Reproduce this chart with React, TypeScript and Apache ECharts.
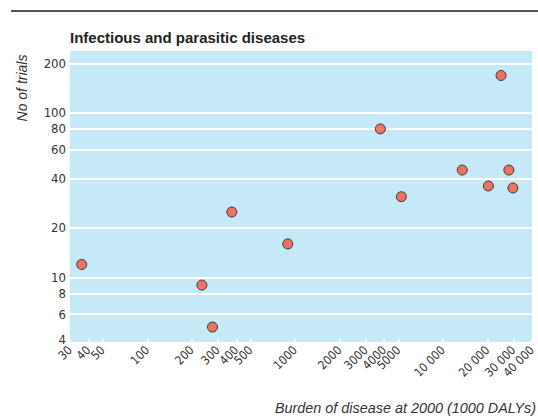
import React, { useEffect, useRef } from "react";
import * as echarts from "echarts";

const titleText = "Infectious and parasitic diseases";
const xAxisTitle = "Burden of disease at 2000 (1000 DALYs)";
const yAxisTitle = "No of trials";

const xTicks = [30, 40, 50, 100, 200, 300, 400, 500, 1000, 2000, 3000, 4000, 5000, 10000, 20000, 30000, 40000];
const yTicks = [4, 6, 8, 10, 20, 40, 60, 80, 100, 200];

const burden = [36, 234, 276, 373, 891, 3770, 5230, 13500, 20300, 24700, 27900, 29700];
const trials = [12, 9, 5, 25, 16, 80, 31, 45, 36, 169, 45, 35];

const xMin = 30;
const xMax = 40000;
const yMin = 4;
const yMax = 238;

const NARROW = '"Liberation Sans Narrow", "Arial Narrow", "DejaVu Sans Condensed", sans-serif';
const REG = '"Liberation Sans", Arial, sans-serif';

const fmt = (v: number) => {
  const n = Math.round(Math.pow(10, v));
  if (n >= 10000) {
    const s = String(n);
    return s.slice(0, s.length - 3) + " " + s.slice(s.length - 3);
  }
  return String(n);
};

export default function App() {
  const ref = useRef<HTMLDivElement>(null);
  useEffect(() => {
    if (!ref.current) return;
    const chart = echarts.init(ref.current, null, { renderer: "svg" });
    const data = burden.map((b, i) => [Math.log10(b), Math.log10(trials[i])]);
    chart.setOption({
      animation: false,
      backgroundColor: "#ffffff",
      title: {
        text: titleText,
        left: 70,
        top: 30,
        padding: 0,
        textStyle: { fontFamily: REG, fontSize: 15, fontWeight: "bold", color: "#222" },
      },
      grid: {
        left: 70,
        right: 6,
        top: 51,
        bottom: 75,
        show: true,
        backgroundColor: "#C6E9F8",
        borderWidth: 0,
        outerBoundsMode: "none",
        containLabel: false,
      },
      xAxis: {
        type: "value",
        min: Math.log10(xMin),
        max: Math.log10(xMax),
        axisLine: { show: false },
        splitLine: { show: false },
        axisTick: {
          show: true,
          inside: true,
          length: 4,
          lineStyle: { color: "#ffffff", width: 1.5 },
          customValues: xTicks.map((v) => Math.log10(v)),
        },
        axisLabel: {
          customValues: xTicks.map((v) => Math.log10(v)),
          rotate: 45,
          margin: 5,
          formatter: (v: number) => fmt(v),
          fontFamily: NARROW,
          fontSize: 12,
          color: "#333",
          showMinLabel: true,
          showMaxLabel: true,
        },
      },
      yAxis: {
        type: "value",
        min: Math.log10(yMin),
        max: Math.log10(yMax),
        axisLine: { show: false },
        axisTick: {
          show: false,
          customValues: yTicks.map((v) => Math.log10(v)),
        },
        splitLine: { show: true, lineStyle: { color: "#ffffff", width: 2 } },
        axisLabel: {
          customValues: yTicks.map((v) => Math.log10(v)),
          margin: 4,
          formatter: (v: number) => {
            const s = fmt(v);
            return Math.round(Math.pow(10, v)) === yMin ? "{low|" + s + "}" : s;
          },
          rich: {
            low: { fontFamily: NARROW, fontSize: 13, color: "#333", padding: [0, 0, 8, 0] },
          },
          fontFamily: NARROW,
          fontSize: 13,
          color: "#333",
          showMinLabel: true,
          showMaxLabel: true,
        },
      },
      graphic: [
        {
          type: "line",
          shape: { x1: 11, y1: 11, x2: 538, y2: 11 },
          style: { stroke: "#555", lineWidth: 2 },
        },
        {
          type: "text",
          x: 22,
          y: 88,
          rotation: Math.PI / 2,
          style: {
            text: yAxisTitle,
            fontFamily: REG,
            fontStyle: "italic",
            fontSize: 14,
            fill: "#333",
            align: "center",
            verticalAlign: "middle",
          },
        },
        {
          type: "text",
          x: 536,
          y: 408,
          style: {
            text: xAxisTitle,
            fontFamily: REG,
            fontStyle: "italic",
            fontSize: 14.4,
            fill: "#333",
            align: "right",
            verticalAlign: "middle",
          },
        },
      ],
      series: [
        {
          type: "scatter",
          data,
          symbol: "circle",
          symbolSize: 10,
          itemStyle: { color: "#F2563A", borderColor: "#1a1a1a", borderWidth: 1 },
        },
      ],
    });
    return () => chart.dispose();
  }, []);
  return <div ref={ref} style={{ width: 538, height: 418, position: "absolute", left: 0, top: 0 }} />;
}
